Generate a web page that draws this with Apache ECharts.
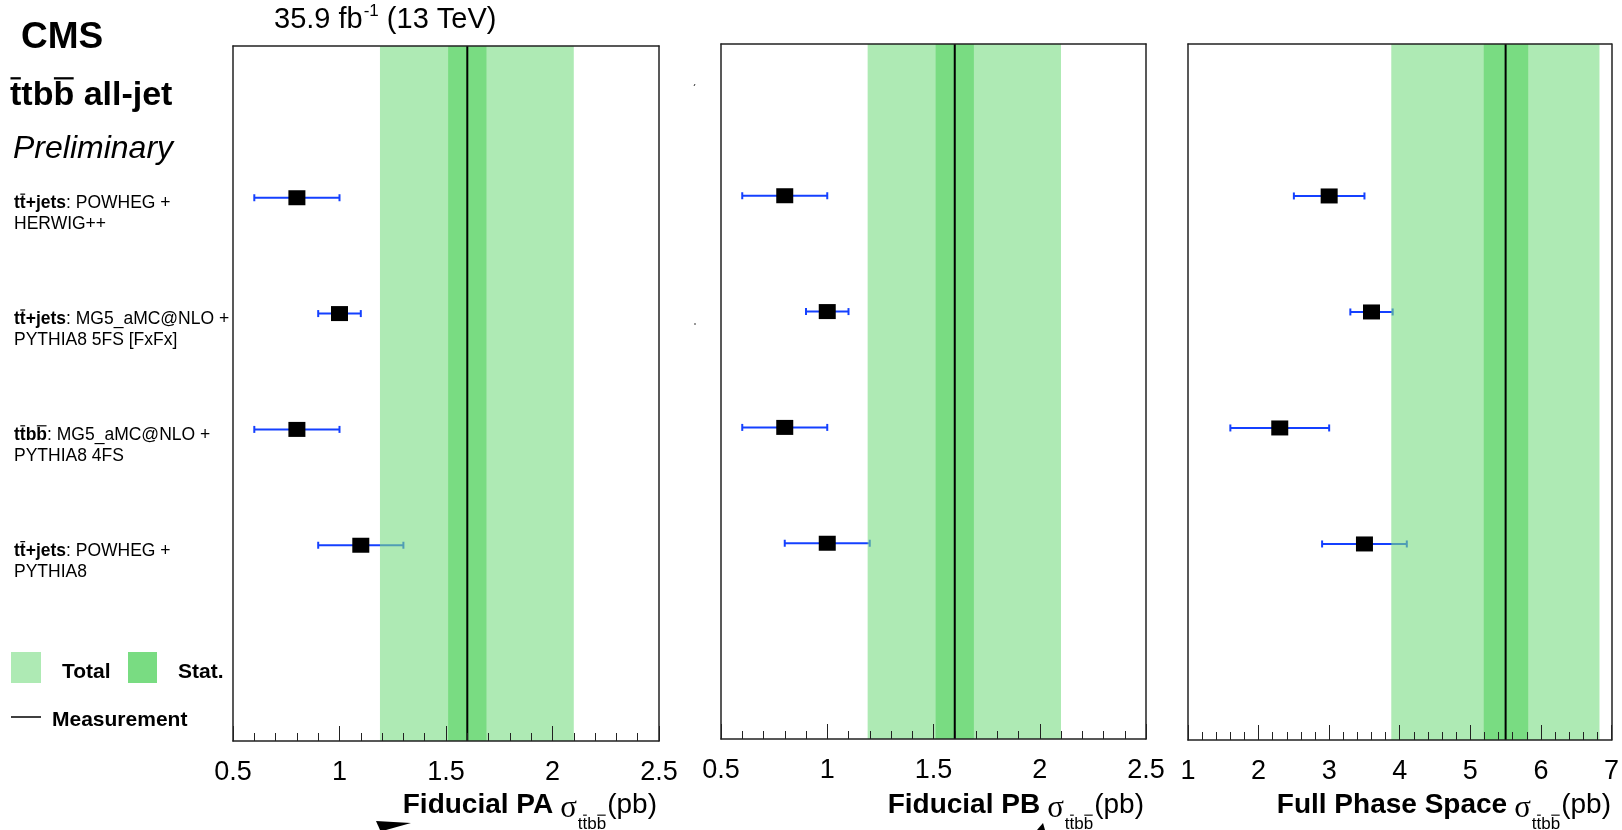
<!DOCTYPE html>
<html>
<head>
<meta charset="utf-8">
<script src="https://cdn.jsdelivr.net/npm/echarts@6/dist/echarts.min.js"></script>
<style>
html,body{margin:0;padding:0;background:#fff;}
#c{width:1622px;height:830px;}
</style>
</head>
<body>
<div id="c"></div>
<script>
// ---------------- data ----------------
const modelTags = ['tt\u0304+jets', 'tt\u0304+jets', 'tt\u0304bb\u0304', 'tt\u0304+jets'];
const modelGen1 = [': POWHEG +', ': MG5_aMC@NLO +', ': MG5_aMC@NLO +', ': POWHEG +'];
const modelGen2 = ['HERWIG++', 'PYTHIA8 5FS [FxFx]', 'PYTHIA8 4FS', 'PYTHIA8'];

const paPred = [0.8, 1.0, 0.8, 1.1];
const paErr  = [0.2, 0.1, 0.2, 0.2];
const pbPred = [0.8, 1.0, 0.8, 1.0];
const pbErr  = [0.2, 0.1, 0.2, 0.2];
const fpsPred = [3.0, 3.6, 2.3, 3.5];
const fpsErr  = [0.5, 0.3, 0.7, 0.6];

const measCentral = [1.6, 1.6, 5.5];
const statLo = [1.51, 1.51, 5.19];
const statHi = [1.69, 1.69, 5.82];
const totLo  = [1.19, 1.19, 3.88];
const totHi  = [2.10, 2.10, 6.83];

const axisMin  = [0.5, 0.5, 1];
const axisMax  = [2.5, 2.5, 7];
const axisStep = [0.5, 0.5, 1];
const panelNames = ['Fiducial PA', 'Fiducial PB', 'Full Phase Space'];
const preds = [paPred, pbPred, fpsPred];
const errs  = [paErr, pbErr, fpsErr];

// ---------------- layout ----------------
const grids = [
  {left: 233, top: 46, width: 426, height: 695},
  {left: 721, top: 44, width: 425, height: 695},
  {left: 1188, top: 44, width: 425, height: 696}
];
const Y_MIN = -1.69, Y_MAX = 4.31;
const SANS = '"Liberation Sans", Arial, Helvetica, sans-serif';
const SERIF = '"Liberation Serif", "Times New Roman", serif';
const LIGHT = 'rgba(120,220,130,0.6)';
const DARK = '#79dc82';
const BLUE = '#1440ff';
const FRAME = '#222';

const chart = echarts.init(document.getElementById('c'), null, {renderer: 'canvas'});

const xAxes = [], yAxes = [], series = [];
for (let p = 0; p < 3; p++) {
  xAxes.push({
    gridIndex: p, type: 'value', position: 'bottom',
    min: axisMin[p], max: axisMax[p], interval: axisStep[p],
    z: 10,
    axisLine: {show: true, onZero: false, lineStyle: {color: FRAME, width: 1.5}},
    axisTick: {show: true, inside: true, length: 15, lineStyle: {color: FRAME, width: 1}},
    minorTick: {show: true, splitNumber: 5, length: 8, lineStyle: {color: FRAME, width: 1}},
    splitLine: {show: false},
    axisLabel: {show: true, fontSize: 27, color: '#000', fontFamily: SANS, margin: 18,
                showMinLabel: true, showMaxLabel: true}
  });
}
for (let p = 0; p < 3; p++) {
  xAxes.push({
    gridIndex: p, type: 'value', position: 'top',
    min: axisMin[p], max: axisMax[p], z: 10,
    axisLine: {show: true, onZero: false, lineStyle: {color: FRAME, width: 1.5}},
    axisTick: {show: false}, axisLabel: {show: false}, splitLine: {show: false}
  });
}
for (let p = 0; p < 3; p++) {
  yAxes.push({
    gridIndex: p, type: 'value', position: 'left', min: Y_MIN, max: Y_MAX, z: 10,
    axisLine: {show: true, onZero: false, lineStyle: {color: FRAME, width: 1.5}},
    axisTick: {show: false}, axisLabel: {show: false}, splitLine: {show: false}
  });
}
for (let p = 0; p < 3; p++) {
  yAxes.push({
    gridIndex: p, type: 'value', position: 'right', min: Y_MIN, max: Y_MAX, z: 10,
    axisLine: {show: true, onZero: false, lineStyle: {color: FRAME, width: 1.5}},
    axisTick: {show: false}, axisLabel: {show: false}, splitLine: {show: false}
  });
}

function bandRender(color) {
  return function (params, api) {
    const c = params.coordSys;
    const x1 = api.coord([api.value(0), 0])[0];
    const x2 = api.coord([api.value(1), 0])[0];
    return {type: 'rect', shape: {x: x1, y: c.y, width: x2 - x1, height: c.height},
            style: {fill: color}};
  };
}

for (let p = 0; p < 3; p++) {
  const n = preds[p].length;
  const errData = [], ptData = [];
  for (let i = 0; i < n; i++) {
    const y = n - 1 - i;
    errData.push([preds[p][i], errs[p][i], errs[p][i], y]);
    ptData.push([preds[p][i], y]);
  }
  series.push({
    type: 'custom', xAxisIndex: p, yAxisIndex: p, z: 2, silent: true,
    data: errData, encode: {x: 0, y: 3},
    renderItem: function (params, api) {
      const v = api.value(0), y = api.value(3);
      const a = api.coord([v - api.value(1), y]);
      const b = api.coord([v + api.value(2), y]);
      const cap = 3.5;
      const st = {stroke: BLUE, lineWidth: 2};
      return {type: 'group', children: [
        {type: 'line', shape: {x1: a[0], y1: a[1], x2: b[0], y2: b[1]}, style: st},
        {type: 'line', shape: {x1: a[0], y1: a[1] - cap, x2: a[0], y2: a[1] + cap}, style: st},
        {type: 'line', shape: {x1: b[0], y1: b[1] - cap, x2: b[0], y2: b[1] + cap}, style: st}
      ]};
    }
  });
  series.push({
    type: 'custom', xAxisIndex: p, yAxisIndex: p, z: 3, silent: true,
    data: [[totLo[p], totHi[p], 0]], encode: {x: [0, 1], y: 2},
    renderItem: bandRender(LIGHT)
  });
  series.push({
    type: 'custom', xAxisIndex: p, yAxisIndex: p, z: 4, silent: true,
    data: [[statLo[p], statHi[p], 0]], encode: {x: [0, 1], y: 2},
    renderItem: bandRender(DARK)
  });
  series.push({
    type: 'scatter', xAxisIndex: p, yAxisIndex: p, z: 5, silent: true,
    data: ptData, symbol: 'rect', symbolSize: [17, 15],
    itemStyle: {color: '#000', opacity: 1}
  });
  series.push({
    type: 'custom', xAxisIndex: p, yAxisIndex: p, z: 6, silent: true,
    data: [[measCentral[p], 0]], encode: {x: 0, y: 1},
    renderItem: function (params, api) {
      const c = params.coordSys;
      const x = api.coord([api.value(0), 0])[0];
      return {type: 'line', shape: {x1: x, y1: c.y, x2: x, y2: c.y + c.height},
              style: {stroke: '#000', lineWidth: 2}};
    }
  });
}

chart.setOption({
  animation: false,
  backgroundColor: '#fff',
  grid: grids.map(g => Object.assign({containLabel: false}, g)),
  xAxis: xAxes,
  yAxis: yAxes,
  series: series
});

// ---------------- text & legend ----------------
const mctx = document.createElement('canvas').getContext('2d');
function tw(t, font) { mctx.font = font; return mctx.measureText(t).width; }

function parseBars(s) {
  let plain = '', bars = [];
  for (const ch of s) {
    if (ch === '\u0304') bars.push(plain.length - 1);
    else plain += ch;
  }
  return {plain, bars};
}

const graphics = [];
function txt(text, x, y, font, align, extra) {
  graphics.push(Object.assign({type: 'text', x: x, y: y, z: 20, silent: true,
    style: {text: text, font: font, fill: '#000', align: align || 'left', verticalAlign: 'middle'}}, extra || {}));
}
function addBars(plain, bars, xLeft, yBar, font, thick) {
  for (const k of bars) {
    const x0 = xLeft + tw(plain.slice(0, k), font);
    const w = tw(plain[k], font);
    graphics.push({type: 'rect', z: 20, silent: true,
      shape: {x: x0 + 0.5, y: yBar - thick / 2, width: w - 1, height: thick},
      style: {fill: '#000'}});
  }
}
function barredTxt(s, x, y, font, size, align) {
  const {plain, bars} = parseBars(s);
  txt(plain, x, y, font, align);
  const w = tw(plain, font);
  const xl = align === 'right' ? x - w : x;
  addBars(plain, bars, xl, y - 0.52 * size, font, Math.max(1, size / 15));
  return w;
}

// header texts
txt('CMS', 21, 38, 'bold 37px ' + SANS);
barredTxt('t\u0304tbb\u0304 all-jet', 10, 96, 'bold 34px ' + SANS, 34);
txt('Preliminary', 13, 149, 'italic 32px ' + SANS);

// lumi label
{
  const f1 = '29px ' + SANS, f2 = '17px ' + SANS;
  let x = 274;
  txt('35.9 fb', x, 20, f1); x += tw('35.9 fb', f1) + 1;
  txt('-1', x, 11, f2); x += tw('-1', f2);
  txt(' (13 TeV)', x, 20, f1);
}

// model labels, vertical placement taken from the first panel's y scale
const LF = 17.5;
for (let i = 0; i < modelTags.length; i++) {
  const y = chart.convertToPixel({yAxisIndex: 0}, modelTags.length - 1 - i);
  const {plain, bars} = parseBars(modelTags[i]);
  const top = y - 5;
  graphics.push({
    type: 'text', x: 14, y: top, z: 20, silent: true,
    style: {
      text: '{b|' + plain + '}{r|' + modelGen1[i] + '}\n{r|' + modelGen2[i] + '}',
      verticalAlign: 'top', align: 'left',
      rich: {
        b: {font: 'bold ' + LF + 'px ' + SANS, fill: '#000', lineHeight: 21},
        r: {font: LF + 'px ' + SANS, fill: '#000', lineHeight: 21}
      }
    }
  });
  addBars(plain, bars, 14, top + 10.5 - 0.52 * LF, 'bold ' + LF + 'px ' + SANS, 1.2);
}

// axis titles
for (let p = 0; p < 3; p++) {
  const R = grids[p].left + grids[p].width - 2;
  const fMain = 'bold 28px ' + SANS, fSig = '31px ' + SERIF, fSub = '17px ' + SANS, fPb = '28px ' + SANS;
  const sub = 'tt\u0304bb\u0304';
  let x = R;
  txt('(pb)', x, 805, fPb, 'right'); x -= tw('(pb)', fPb) + 1;
  const ws = barredTxt(sub, x, 824, fSub, 17, 'right'); x -= ws + 1;
  txt('\u03c3', x, 809, fSig, 'right'); x -= tw('\u03c3', fSig) + 7;
  txt(panelNames[p], x, 805, fMain, 'right');
}

// legend
graphics.push({type: 'rect', z: 20, silent: true, shape: {x: 11, y: 652, width: 30, height: 31}, style: {fill: '#aeeab4'}});
graphics.push({type: 'rect', z: 20, silent: true, shape: {x: 128, y: 652, width: 29, height: 31}, style: {fill: DARK}});
txt('Total', 62, 672, 'bold 21px ' + SANS);
txt('Stat.', 178, 672, 'bold 21px ' + SANS);
graphics.push({type: 'line', z: 20, silent: true, shape: {x1: 11, y1: 717, x2: 41, y2: 717}, style: {stroke: '#000', lineWidth: 1.5}});
txt('Measurement', 52, 720, 'bold 21px ' + SANS);

// stray fragments present in the original image
graphics.push({type: 'polygon', z: 20, silent: true, shape: {points: [[376, 821], [411, 823], [386, 830], [380, 830]]}, style: {fill: '#000'}});
graphics.push({type: 'polygon', z: 20, silent: true, shape: {points: [[1043, 823], [1045, 830], [1037, 830]]}, style: {fill: '#000'}});
graphics.push({type: 'line', z: 20, silent: true, shape: {x1: 694, y1: 86, x2: 695, y2: 84}, style: {stroke: '#333', lineWidth: 1}});
graphics.push({type: 'line', z: 20, silent: true, shape: {x1: 694, y1: 324, x2: 696, y2: 324}, style: {stroke: '#333', lineWidth: 1}});

chart.setOption({graphic: graphics});
</script>
</body>
</html>
